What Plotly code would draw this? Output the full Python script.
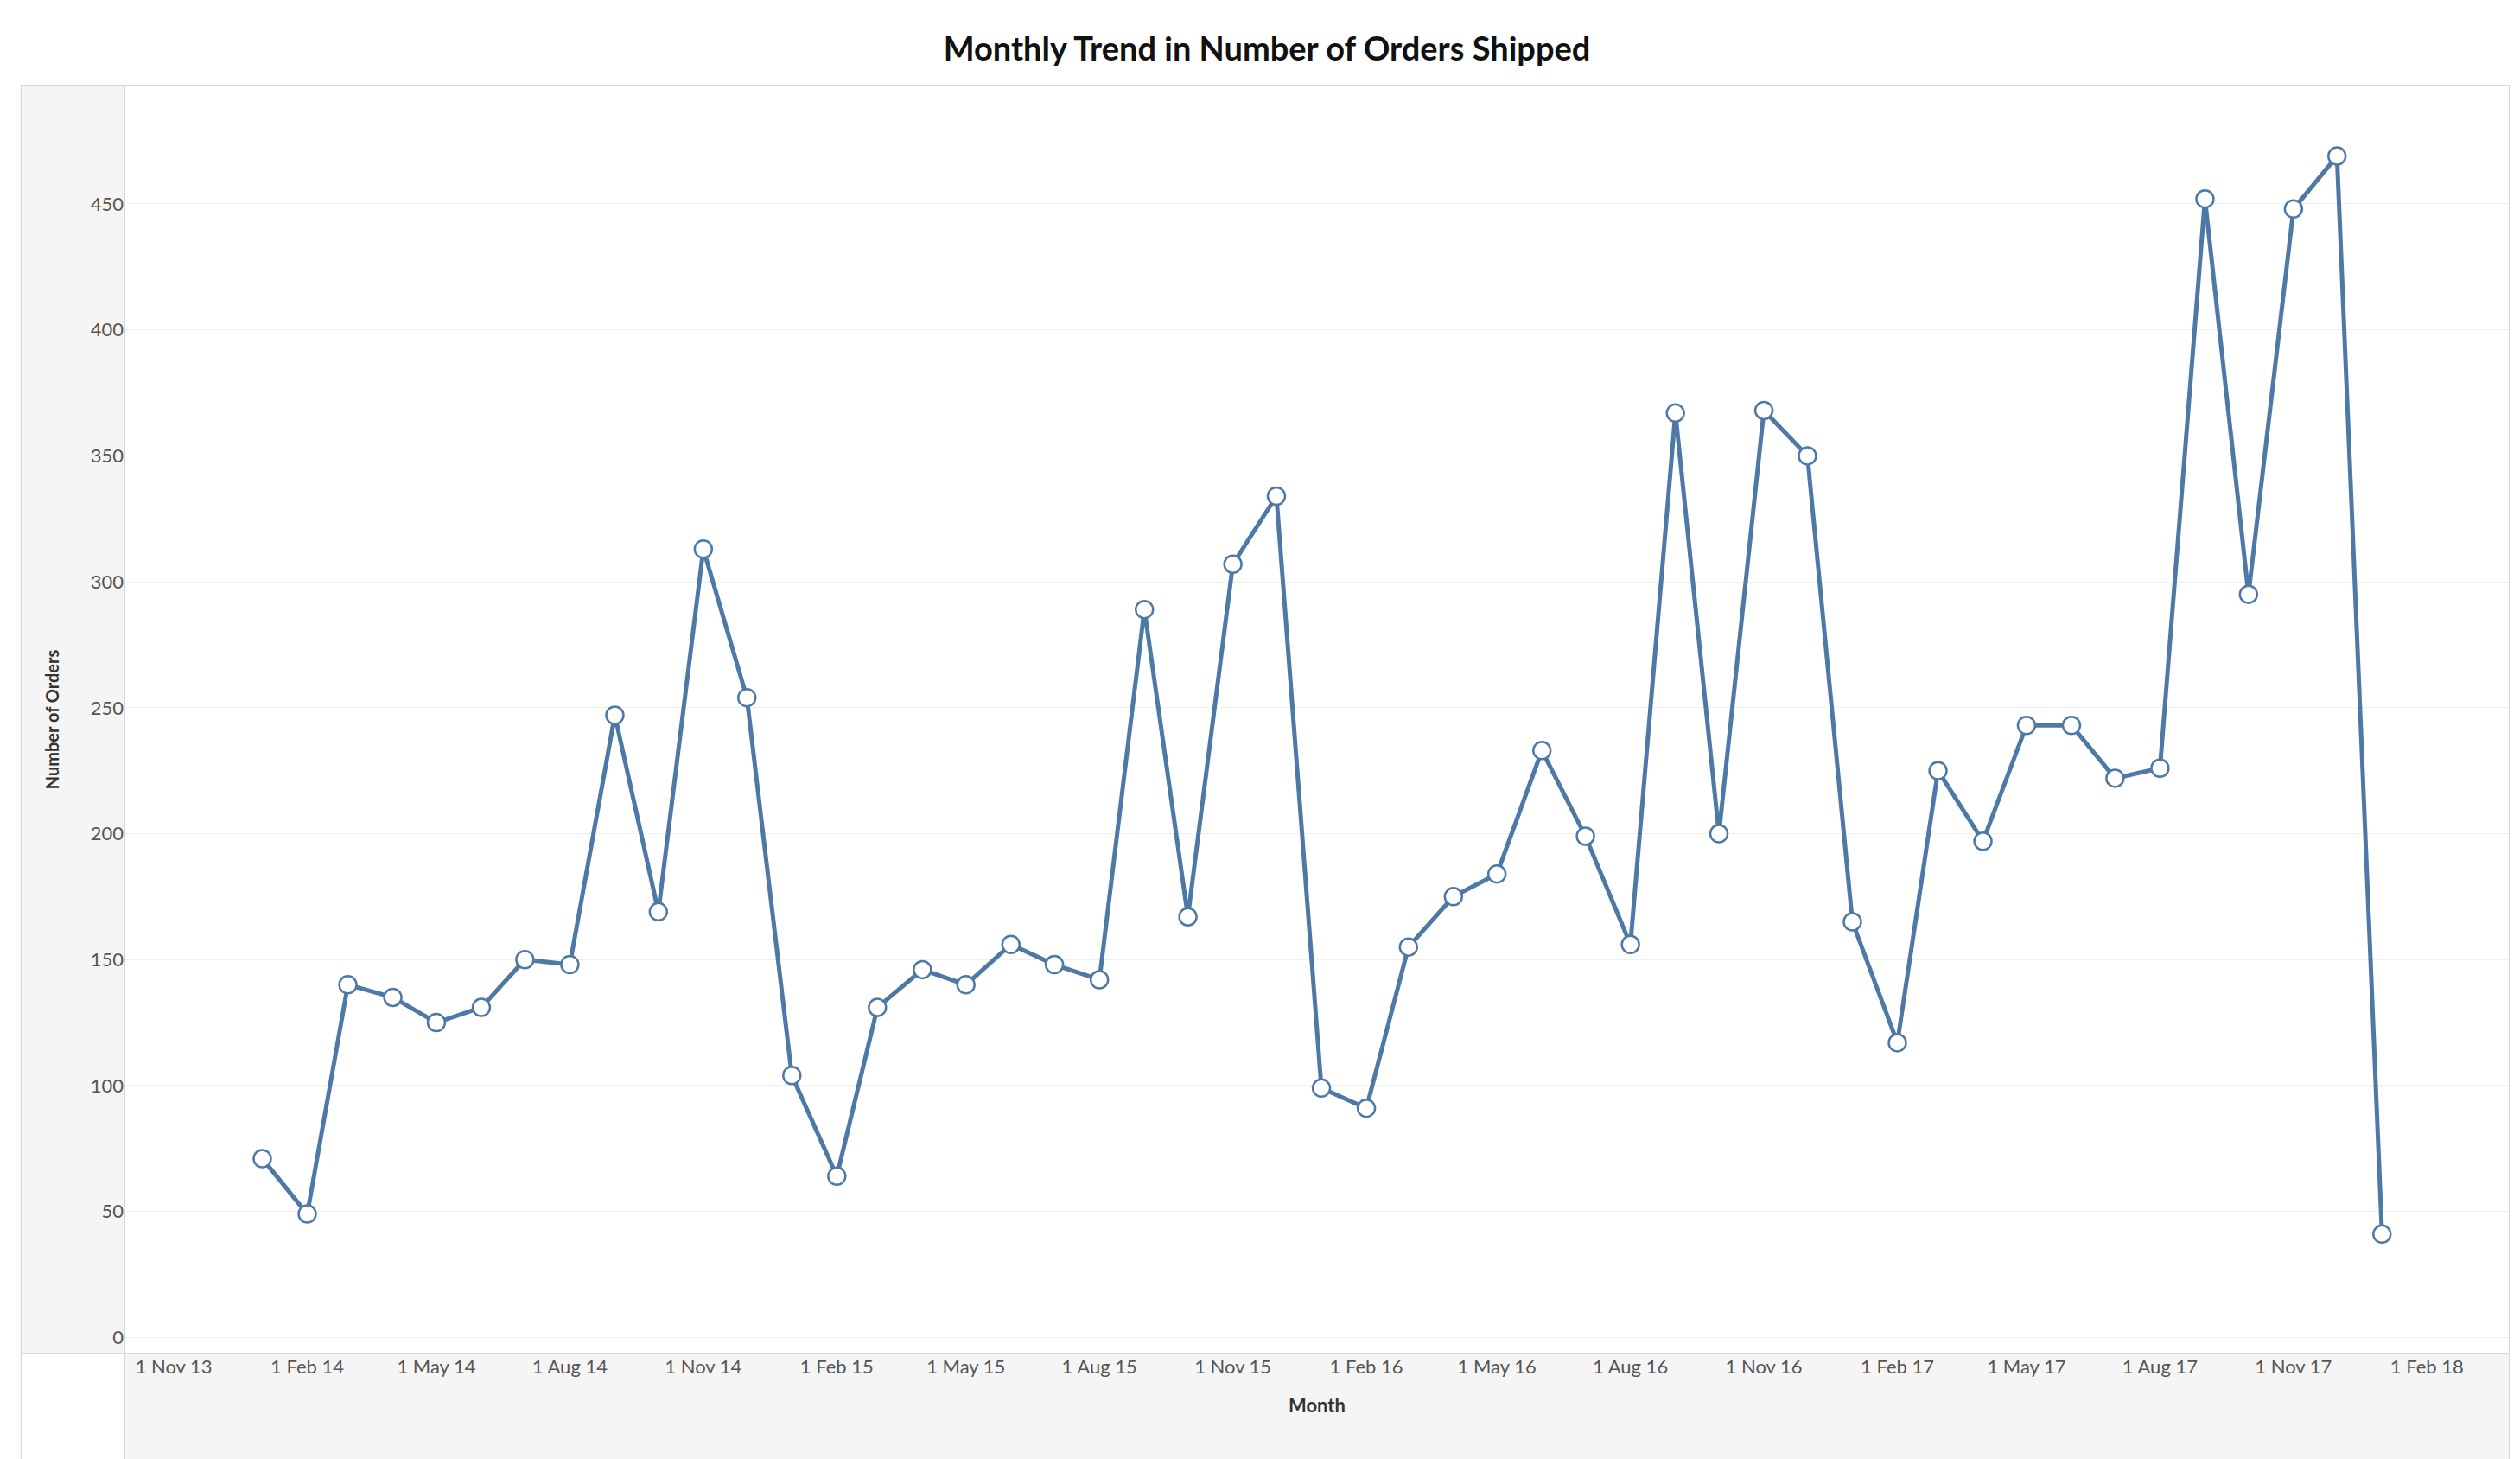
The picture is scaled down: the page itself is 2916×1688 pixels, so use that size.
import pandas as pd
import plotly.graph_objects as go

months = pd.date_range("2014-01-01", "2018-01-01", freq="MS")
orders = [71, 49, 140, 135, 125, 131, 150, 148, 247, 169, 313, 254,
          104, 64, 131, 146, 140, 156, 148, 142, 289, 167, 307, 334,
          99, 91, 155, 175, 184, 233, 199, 156, 367, 200, 368, 350,
          165, 117, 225, 197, 243, 243, 222, 226, 452, 295, 448, 469,
          41]
y_ticks = [0, 50, 100, 150, 200, 250, 300, 350, 400, 450]
x_ticks = pd.date_range("2013-11-01", "2018-02-01", freq="3MS")

W, H = 2916, 1688
# map reference pixel coords (1566x908 preview) to plot-area paper coords
fx = lambda px: (px - 73) / (1555 - 73)
fy = lambda py: (838 - py) / (838 - 49)

fig = go.Figure()
fig.add_trace(go.Scatter(
    x=months, y=orders, mode="lines+markers",
    line=dict(color="#4e79a7", width=5),
    marker=dict(size=20, color="white", line=dict(color="#4e79a7", width=2.5)),
))

shapes = [
    dict(type="rect", xref="paper", yref="paper", x0=fx(9), x1=fx(73), y0=fy(838), y1=fy(49),
         fillcolor="#f5f5f5", line=dict(width=0), layer="below"),
    dict(type="rect", xref="paper", yref="paper", x0=fx(73), x1=fx(1555), y0=fy(905), y1=fy(838),
         fillcolor="#f5f5f5", line=dict(width=0), layer="below"),
    dict(type="rect", xref="paper", yref="paper", x0=fx(9), x1=fx(1555), y0=fy(905), y1=fy(49),
         fillcolor="rgba(0,0,0,0)", line=dict(color="#d8d8d8", width=2)),
    dict(type="line", xref="paper", yref="paper", x0=fx(73), x1=fx(73), y0=fy(905), y1=fy(49),
         line=dict(color="#d8d8d8", width=2)),
    dict(type="line", xref="paper", yref="paper", x0=fx(9), x1=fx(1555), y0=fy(838), y1=fy(838),
         line=dict(color="#d8d8d8", width=2)),
]

fig.update_layout(
    width=W, height=H,
    margin=dict(l=136, r=20, t=91, b=130),
    paper_bgcolor="white", plot_bgcolor="white",
    showlegend=False, shapes=shapes,
    font=dict(family="Lato, Open Sans, sans-serif", color="#555555", size=22),
    title=dict(text="<b>Monthly Trend in Number of Orders Shipped</b>", x=0.5, xanchor="center",
               y=1 - 26 / 908, yanchor="middle", font=dict(size=38, color="#111111")),
    xaxis=dict(range=["2013-09-28", "2018-03-30"], tickvals=x_ticks, tickformat="%-d %b %y",
               showgrid=False, zeroline=False, showline=False, ticks="",
               title=dict(text="<b>Month</b>", font=dict(size=22, color="#333333"), standoff=25)),
    yaxis=dict(range=[-6.4, 497], tickvals=y_ticks, showgrid=True, gridcolor="#efefef",
               zeroline=False, showline=False, ticks="",
               title=dict(text="<b>Number of Orders</b>", font=dict(size=20, color="#333333"), standoff=30)),
)

fig.write_html("out.html")
